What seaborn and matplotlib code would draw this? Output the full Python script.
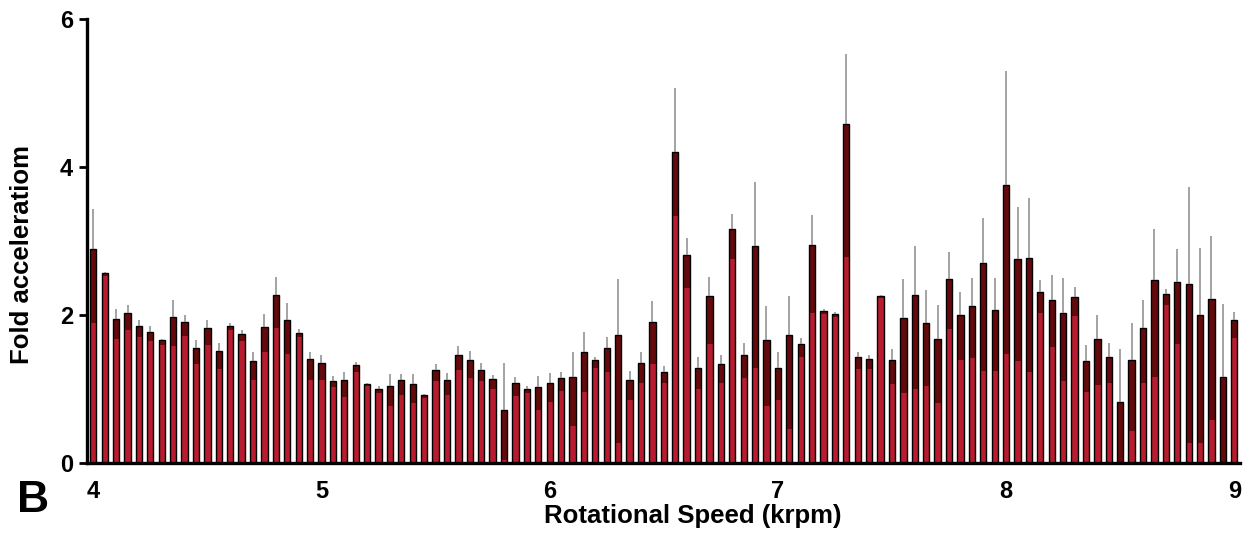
import numpy as np
import pandas as pd
import matplotlib
matplotlib.use("Agg")
import matplotlib.pyplot as plt
import seaborn as sns

# ---- data ----
speeds = [round(4.0 + 0.05 * i, 2) for i in range(101)]  # 4.00 ... 9.00 krpm

fold = [2.90, 2.57, 1.95, 2.03, 1.86, 1.78, 1.66, 1.98, 1.91, 1.56,
        1.83, 1.52, 1.86, 1.75, 1.38, 1.84, 2.28, 1.93, 1.76, 1.41,
        1.35, 1.11, 1.12, 1.33, 1.07, 1.00, 1.05, 1.12, 1.07, 0.92,
        1.26, 1.12, 1.47, 1.39, 1.26, 1.14, 0.72, 1.08, 1.01, 1.03,
        1.08, 1.15, 1.17, 1.51, 1.40, 1.56, 1.73, 1.12, 1.36, 1.91,
        1.24, 4.20, 2.81, 1.29, 2.26, 1.34, 3.17, 1.47, 2.94, 1.66,
        1.29, 1.73, 1.61, 2.95, 2.06, 2.02, 4.58, 1.43, 1.41, 2.26,
        1.39, 1.96, 2.28, 1.90, 1.68, 2.49, 2.01, 2.12, 2.71, 2.07,
        3.76, 2.76, 2.78, 2.32, 2.21, 2.03, 2.25, 1.38, 1.68, 1.43,
        0.83, 1.39, 1.83, 2.48, 2.29, 2.45, 2.42, 2.01, 2.22, 1.17,
        1.93]

err_up = [0.54, 0.02, 0.14, 0.11, 0.07, 0.08, 0.02, 0.22, 0.09, 0.10,
          0.10, 0.11, 0.04, 0.05, 0.13, 0.18, 0.24, 0.24, 0.06, 0.10,
          0.12, 0.07, 0.12, 0.04, 0.02, 0.04, 0.15, 0.08, 0.13, 0.02,
          0.08, 0.10, 0.11, 0.13, 0.09, 0.05, 0.63, 0.08, 0.03, 0.15,
          0.14, 0.08, 0.34, 0.27, 0.04, 0.15, 0.76, 0.13, 0.14, 0.29,
          0.08, 0.87, 0.23, 0.14, 0.26, 0.12, 0.20, 0.15, 0.86, 0.46,
          0.21, 0.53, 0.08, 0.40, 0.02, 0.02, 0.95, 0.08, 0.06, 0.02,
          0.16, 0.53, 0.65, 0.44, 0.46, 0.36, 0.30, 0.38, 0.61, 0.43,
          1.54, 0.71, 0.80, 0.16, 0.33, 0.48, 0.13, 0.22, 0.32, 0.19,
          0.72, 0.50, 0.38, 0.68, 0.06, 0.44, 1.32, 0.90, 0.85, 0.98,
          0.11]

# lower end of the dark (lower-error) band on each bar
err_low_end = [1.90, 2.53, 1.68, 1.80, 1.70, 1.65, 1.60, 1.58, 1.72, 1.34,
               1.60, 1.27, 1.80, 1.65, 1.13, 1.51, 1.83, 1.48, 1.70, 1.13,
               1.13, 1.03, 0.89, 1.23, 1.05, 0.95, 0.77, 0.92, 0.82, 0.88,
               1.11, 0.92, 1.26, 1.15, 1.11, 1.00, 0.05, 0.91, 0.95, 0.72,
               0.83, 0.98, 0.50, 0.97, 1.29, 1.24, 0.27, 0.86, 1.08, 1.34,
               1.09, 3.34, 2.37, 1.00, 1.61, 1.09, 2.76, 1.15, 1.29, 0.77,
               0.85, 0.47, 1.44, 2.03, 2.02, 1.98, 2.79, 1.27, 1.27, 2.23,
               1.07, 0.95, 1.01, 1.05, 0.81, 1.81, 1.40, 1.42, 1.25, 1.25,
               1.48, 1.38, 1.24, 2.03, 1.57, 1.11, 1.99, 0.97, 1.06, 1.08,
               0.00, 0.44, 1.09, 1.17, 2.14, 1.61, 0.28, 0.27, 0.59, 0.00,
               1.69]

x_tick_labels = ["4", "5", "6", "7", "8", "9"]
y_ticks = [0, 2, 4, 6]

df = pd.DataFrame({
    "speed": [f"{s:.2f}" for s in speeds],
    "fold": fold,
    "err": err_up,
    "low": err_low_end,
})

RED = "#b81c2e"
DARK = "#650a0c"
BAR_W = 0.55

sns.set_theme(style="white")
plt.rcParams["font.family"] = ["Liberation Sans", "DejaVu Sans"]
plt.rcParams["font.weight"] = "bold"

fig = plt.figure(figsize=(12.51, 5.34), dpi=100)
ax = fig.add_axes([87 / 1251, 1 - 463.3 / 534, (1240 - 87) / 1251, (463.3 - 19.3) / 534])

order = list(df["speed"])
# dark band (full height), then red lower part, then black outline
sns.barplot(data=df, x="speed", y="fold", order=order, color=DARK, width=BAR_W,
            linewidth=0, saturation=1, errorbar=None, ax=ax)
sns.barplot(data=df, x="speed", y="low", order=order, color=RED, width=BAR_W,
            linewidth=0, saturation=1, errorbar=None, ax=ax)
sns.barplot(data=df, x="speed", y="fold", order=order, color="black", width=BAR_W,
            fill=False, linewidth=1.0, errorbar=None, ax=ax)

# upper error whiskers
idx = np.arange(len(df))
ax.errorbar(idx, df["fold"], yerr=[np.zeros(len(df)), df["err"]], fmt="none",
            ecolor="#8a8a8a", elinewidth=1.1, capsize=0, zorder=5)

ax.set_xlim(-0.55, 100.5)
ax.set_ylim(0, 6)
ax.set_xticks([0, 20, 40, 60, 80, 100])
ax.set_xticklabels(x_tick_labels)
ax.set_yticks(y_ticks)
ax.set_yticklabels([str(t) for t in y_ticks])

for s in ["top", "right"]:
    ax.spines[s].set_visible(False)
for s in ["left", "bottom"]:
    ax.spines[s].set_color("black")
    ax.spines[s].set_linewidth(2.4)

ax.tick_params(axis="x", length=0, pad=12, labelsize=17, colors="black")
ax.tick_params(axis="y", length=6, width=2, direction="out", pad=4,
               labelsize=17, colors="black", left=True)
for lab in ax.get_xticklabels() + ax.get_yticklabels():
    lab.set_fontweight("bold")

ax.set_xlabel("Rotational Speed (krpm)", fontsize=18.5, fontweight="bold", color="black")
ax.xaxis.label.set_va("center")
ax.xaxis.set_label_coords((693 - 87) / 1153, (463.3 - 516) / 444)
ax.set_ylabel("Fold acceleratiom", fontsize=18.5, fontweight="bold", color="black")
ax.yaxis.label.set_va("center")
ax.yaxis.set_label_coords((22 - 87) / 1153, (463.3 - 254) / 444)

fig.text(33 / 1251, 1 - 500 / 534, "B", fontsize=32, fontweight="bold",
         ha="center", va="center", color="black")

fig.savefig("out.png", dpi=100, facecolor="white")
